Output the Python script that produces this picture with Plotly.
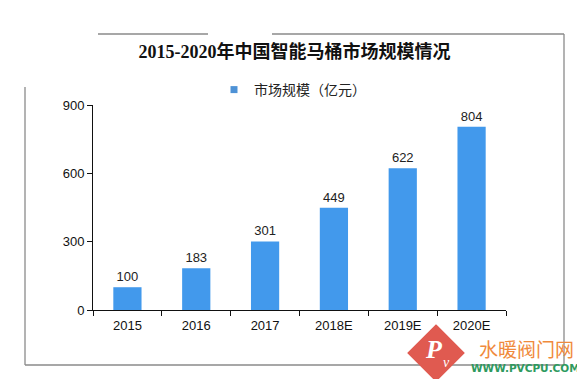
import plotly.graph_objects as go

categories = ["2015", "2016", "2017", "2018E", "2019E", "2020E"]
values = [100, 183, 301, 449, 622, 804]
y_ticks = [0, 300, 600, 900]
title_text = "2015-2020年中国智能马桶市场规模情况"
series_name = "市场规模（亿元）"

OFF = 8  # page body margin offset
W, H = 585 - OFF, 379 - OFF
L, T = 93 - OFF, 105 - OFF
R, B = W - (506 - OFF), H - (310 - OFF)
PW, PH = W - L - R, H - T - B


def px(x):
    return (x - OFF - L) / PW


def py(y):
    return (H - B - (y - OFF)) / PH


bar_color = "#4299EC"
font_main = "Liberation Sans, Noto Sans CJK SC, sans-serif"

fig = go.Figure()
fig.add_trace(go.Bar(
    x=categories, y=values, width=0.41,
    marker=dict(color=bar_color, line=dict(width=0)),
    text=[str(v) for v in values], textposition="outside",
    textfont=dict(size=13, color="#222222", family=font_main),
    cliponaxis=False, showlegend=False, name=series_name,
))
fig.add_trace(go.Scatter(
    x=[None], y=[None], mode="markers", name=series_name,
    marker=dict(symbol="square", size=7, color="#4E92D6"),
    showlegend=True,
))

shapes = []
line_style = dict(color="#8a8a8a", width=1.3)
for (x0, y0, x1, y1) in [
    (98, 34, 208, 34), (272, 34, 564, 34),
    (564, 34, 564, 365), (25, 365, 564, 365), (25, 87, 25, 365),
]:
    shapes.append(dict(type="line", xref="paper", yref="paper",
                       x0=px(x0), y0=py(y0), x1=px(x1), y1=py(y1),
                       line=line_style, layer="below"))
# logo diamond
cx, cy, r = 436, 353, 26
pts = [(cx, cy - r), (cx + r, cy), (cx, cy + r), (cx - r, cy)]
path = "M " + " L ".join(f"{px(a):.5f},{py(b):.5f}" for a, b in pts) + " Z"
shapes.append(dict(type="path", xref="paper", yref="paper", path=path,
                   fillcolor="#E05A50", line=dict(color="#E05A50", width=4),
                   layer="above"))

annotations = [
    dict(text="<i><b>P</b></i>", x=px(434), y=py(349), xref="paper", yref="paper",
         xanchor="center", yanchor="middle",
         showarrow=False, font=dict(size=26, color="white", family="Liberation Serif")),
    dict(text="<i>v</i>", x=px(446), y=py(362), xref="paper", yref="paper",
         xanchor="center", yanchor="middle",
         showarrow=False, font=dict(size=14, color="white", family="Liberation Serif")),
    dict(text="水暖阀门网", x=px(526), y=py(348), xref="paper", yref="paper",
         xanchor="center", yanchor="middle",
         showarrow=False, font=dict(size=19, color="#F08A3C", family="Noto Sans CJK SC")),
    dict(text="<b>WWW.PVCPU.COM</b>", x=px(525), y=py(368), xref="paper", yref="paper",
         xanchor="center", yanchor="middle",
         showarrow=False, font=dict(size=10.5, color="#2E9A5E", family="DejaVu Sans")),
]

fig.update_layout(
    width=W, height=H,
    margin=dict(l=L, r=R, t=T, b=B, autoexpand=False),
    paper_bgcolor="white", plot_bgcolor="white",
    title=dict(text=f"<b>{title_text}</b>", x=(294.5 - OFF) / W, xanchor="center",
               y=1 - (52 - OFF) / H, yanchor="middle",
               font=dict(size=18, color="#111111",
                         family="Liberation Serif, Noto Sans CJK SC, serif")),
    legend=dict(orientation="h", x=px(214), xanchor="left", y=py(90), yanchor="middle",
                font=dict(size=14, color="#222222", family="Noto Sans CJK SC"),
                bgcolor="rgba(0,0,0,0)", borderwidth=0),
    font=dict(family=font_main, size=13, color="#111111"),
    xaxis=dict(type="category", showline=True, linecolor="#111111", linewidth=1,
               ticks="outside", tickson="boundaries", ticklen=5, tickcolor="#111111",
               showgrid=False, zeroline=False, ticklabelstandoff=3,
               tickfont=dict(size=13, color="#111111")),
    yaxis=dict(range=[0, 900], tickvals=y_ticks, showline=True, linecolor="#111111",
               linewidth=1, ticks="outside", ticklen=5, tickcolor="#111111",
               showgrid=False, zeroline=False,
               tickfont=dict(size=13, color="#111111")),
    shapes=shapes, annotations=annotations,
)

fig.write_html("out.html")
